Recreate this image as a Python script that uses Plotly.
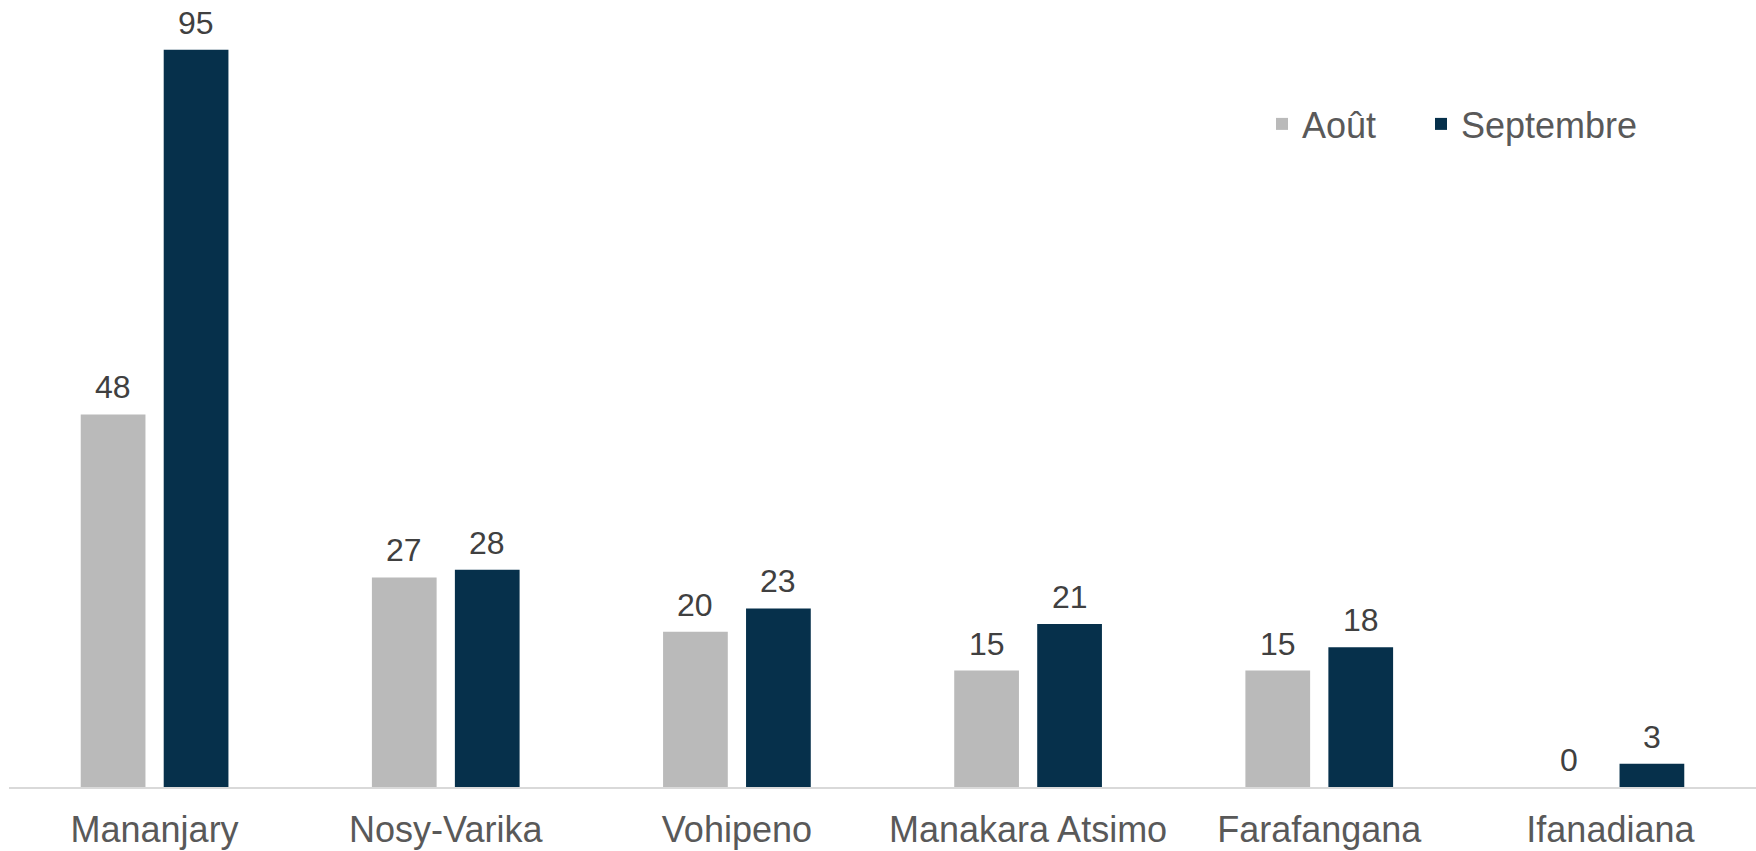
import plotly.graph_objects as go

categories = ["Mananjary", "Nosy-Varika", "Vohipeno", "Manakara Atsimo", "Farafangana", "Ifanadiana"]
aout = [48, 27, 20, 15, 15, 0]
septembre = [95, 28, 23, 21, 18, 3]
series_names = ["Août", "Septembre"]
colors = ["#BABABA", "#06304B"]
legend_ids = ["legend", "legend2"]

bargap = 0.43
bargroupgap = 0.22

fig = go.Figure()
for name, vals, col, lg in zip(series_names, [aout, septembre], colors, legend_ids):
    fig.add_trace(go.Bar(name=name, x=categories, y=vals, legend=lg,
                         marker=dict(color=col, line=dict(width=0))))

# data labels above bars
W = 1 - bargap
slot = W / 2
annotations = []
for k, vals in enumerate([aout, septembre]):
    off = -slot / 2 + k * slot
    for i, v in enumerate(vals):
        annotations.append(dict(x=i + off, y=v, xref="x", yref="y", text=str(v), showarrow=False,
                                yanchor="bottom", yshift=7,
                                font=dict(family="Liberation Sans, Arial", size=32, color="#404040")))

leg_common = dict(orientation="h", xanchor="left", y=1 - 124 / 787, yanchor="middle",
                  font=dict(size=36, color="#595959"), bgcolor="rgba(0,0,0,0)", itemwidth=30)

fig.update_layout(
    width=1756, height=851,
    margin=dict(l=9, r=0, t=0, b=64),
    paper_bgcolor="white", plot_bgcolor="white",
    barmode="group", bargap=bargap, bargroupgap=bargroupgap,
    font=dict(family="Liberation Sans, Arial", color="#595959"),
    legend=dict(x=(1262 - 9) / 1747, **leg_common),
    legend2=dict(x=(1421 - 9) / 1747, **leg_common),
    annotations=annotations,
    showlegend=True,
)
fig.update_xaxes(showline=True, linecolor="#D9D9D9", linewidth=2, ticks="outside", ticklen=10,
                 tickcolor="rgba(0,0,0,0)", tickfont=dict(size=36, color="#595959"), showgrid=False,
                 automargin=False)
fig.update_yaxes(range=[0, 101.4], visible=False, showgrid=False, zeroline=False, automargin=False)

fig.write_html("out.html", config={"displayModeBar": False},
               post_script="document.body.style.margin='0';document.body.style.overflow='hidden';")
